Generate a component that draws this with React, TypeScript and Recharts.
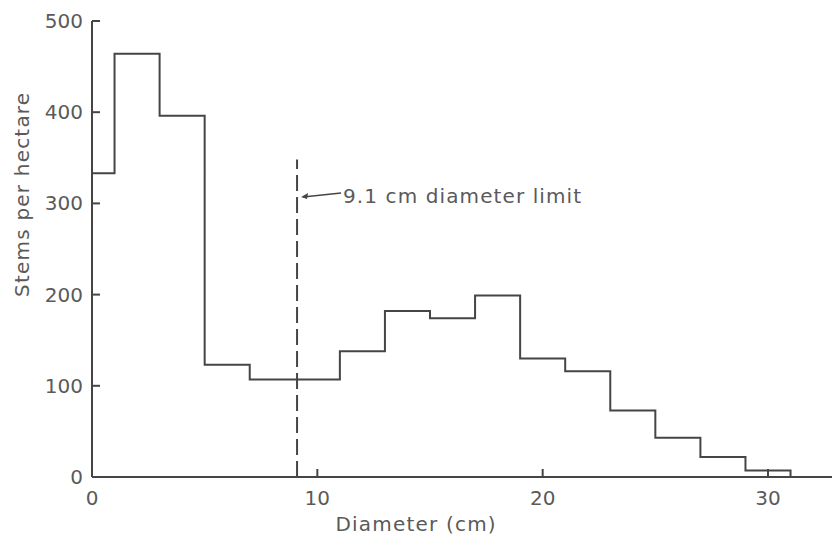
import React from 'react';
import {
  LineChart,
  Line,
  XAxis,
  YAxis,
  ReferenceLine,
  ReferenceDot
} from 'recharts';

// bin edges (cm) and stem counts per hectare for each bin
const binEdges = [0, 1, 3, 5, 7, 9, 11, 13, 15, 17, 19, 21, 23, 25, 27, 29, 31];
const stemsPerHectare = [333, 464, 396, 123, 107, 107, 138, 182, 174, 199, 130, 116, 73, 43, 22, 7];
const xTicks = [0, 10, 20, 30];
const yTicks = [0, 100, 200, 300, 400, 500];
const diameterLimit = 9.1;

const INK = '#454545';
const TEXT = '#5a5a5a';
const FONT = 'DejaVu Sans, sans-serif';

// step points: each bin starts at its left edge, closes down to the axis at the end
const chartData = [
  ...stemsPerHectare.map((v, i) => ({ d: binEdges[i], n: v })),
  { d: binEdges[binEdges.length - 1], n: stemsPerHectare[stemsPerHectare.length - 1] },
  { d: binEdges[binEdges.length - 1], n: 0 }
];

const YTick = (props: any) => {
  const { x, y, payload } = props;
  return (
    <g>
      <line x1={x + 8} x2={x + 16} y1={y} y2={y} stroke={INK} strokeWidth={2} />
      <text x={x - 1} y={y} dy={7} textAnchor="end" fontSize={20} fill={TEXT} fontFamily={FONT}>
        {payload.value}
      </text>
    </g>
  );
};

const XTick = (props: any) => {
  const { x, y, payload } = props;
  return (
    <g>
      {payload.value !== 0 && (
        <line x1={x} x2={x} y1={y - 12} y2={y - 20} stroke={INK} strokeWidth={2} />
      )}
      <text x={x} y={y} dy={16} textAnchor="middle" fontSize={20} fill={TEXT} fontFamily={FONT}>
        {payload.value}
      </text>
    </g>
  );
};

const LimitNote = (props: any) => {
  const { cx, cy } = props;
  return (
    <g>
      <line x1={cx + 6} y1={cy} x2={cx + 44} y2={cy - 4} stroke={INK} strokeWidth={1.5} />
      <path d={`M${cx + 4},${cy} l7,-4 l-1,6 z`} fill={INK} />
      <text x={cx + 46} y={cy} dy={6} fontSize={20} letterSpacing={1.1} fill={TEXT} fontFamily={FONT}>
        9.1 cm diameter limit
      </text>
    </g>
  );
};

export default function App() {
  return (
    <div style={{ position: 'absolute', left: 0, top: 0, background: '#fff' }}>
      <LineChart
        width={832}
        height={541}
        data={chartData}
        margin={{ top: 21, right: 0, left: 0, bottom: 0 }}
      >
        <XAxis
          dataKey="d"
          type="number"
          domain={[0, 32.84]}
          ticks={xTicks}
          tickSize={0}
          tickMargin={12}
          tick={<XTick />}
          height={64}
          axisLine={{ stroke: INK, strokeWidth: 2 }}
          label={(p: any) => {
            const vb = p.viewBox;
            return (
              <text x={vb.x + vb.width * 0.438} y={vb.y + 54} textAnchor="middle" fontSize={20} letterSpacing={1.2} fill={TEXT} fontFamily={FONT}>
                Diameter (cm)
              </text>
            );
          }}
        />
        <YAxis
          type="number"
          domain={[0, 500]}
          ticks={yTicks}
          tickSize={0}
          tickMargin={8}
          tick={<YTick />}
          width={92}
          axisLine={{ stroke: INK, strokeWidth: 2 }}
          label={(p: any) => {
            const vb = p.viewBox;
            const cx = 22;
            const cy = vb.y + vb.height * 0.38;
            return (
              <text x={cx} y={cy} transform={`rotate(-90 ${cx} ${cy})`} textAnchor="middle" dy={7} fontSize={20} letterSpacing={1.2} fill={TEXT} fontFamily={FONT}>
                Stems per hectare
              </text>
            );
          }}
        />
        <ReferenceLine
          segment={[{ x: diameterLimit, y: 0 }, { x: diameterLimit, y: 348 }]}
          stroke={INK}
          strokeWidth={2}
          strokeDasharray="16 6"
        />
        <ReferenceDot x={diameterLimit} y={307} r={0} shape={<LimitNote />} />
        <Line
          type="stepAfter"
          dataKey="n"
          stroke={INK}
          strokeWidth={2}
          dot={false}
          isAnimationActive={false}
        />
      </LineChart>
    </div>
  );
}
